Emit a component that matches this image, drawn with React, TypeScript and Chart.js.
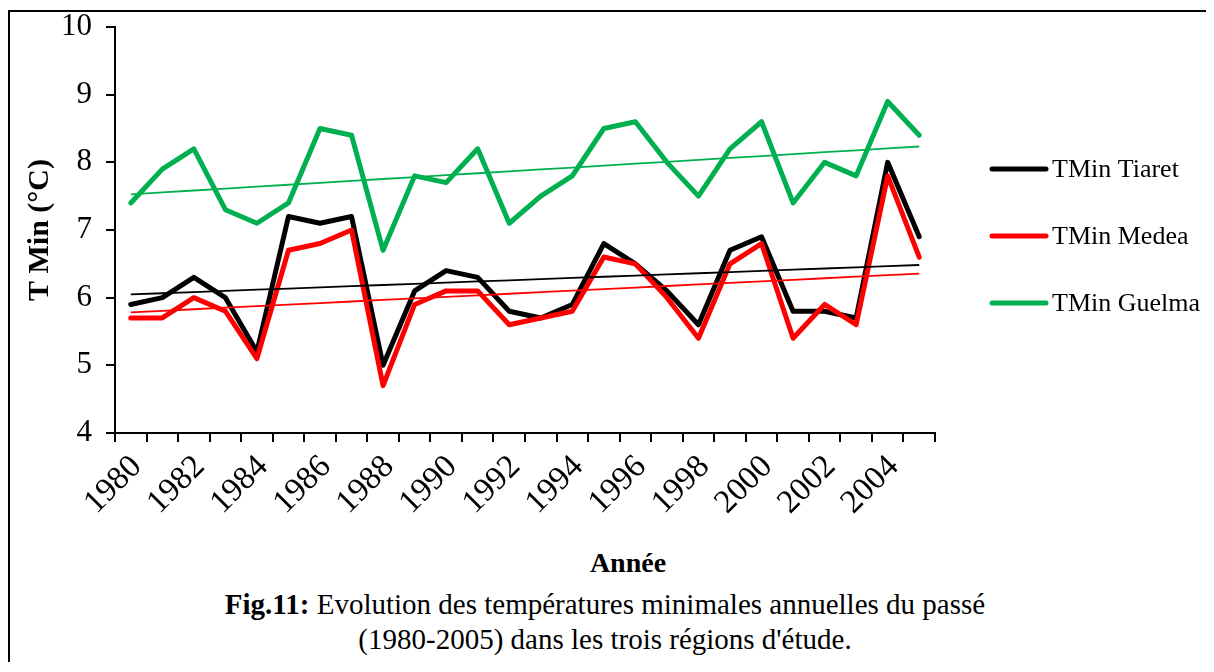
import React, { useEffect, useRef } from "react";
import { Chart, registerables } from "chart.js";

Chart.register(...registerables);

const years = [
  "1980", "1981", "1982", "1983", "1984", "1985", "1986", "1987", "1988",
  "1989", "1990", "1991", "1992", "1993", "1994", "1995", "1996", "1997",
  "1998", "1999", "2000", "2001", "2002", "2003", "2004", "2005",
];

const tiaret = [
  5.9, 6.0, 6.3, 6.0, 5.2, 7.2, 7.1, 7.2, 5.0, 6.1, 6.4, 6.3, 5.8,
  5.7, 5.9, 6.8, 6.5, 6.1, 5.6, 6.7, 6.9, 5.8, 5.8, 5.7, 8.0, 6.9,
];

const medea = [
  5.7, 5.7, 6.0, 5.8, 5.1, 6.7, 6.8, 7.0, 4.7, 5.9, 6.1, 6.1, 5.6,
  5.7, 5.8, 6.6, 6.5, 6.0, 5.4, 6.5, 6.8, 5.4, 5.9, 5.6, 7.8, 6.6,
];

const guelma = [
  7.4, 7.9, 8.2, 7.3, 7.1, 7.4, 8.5, 8.4, 6.7, 7.8, 7.7, 8.2, 7.1,
  7.5, 7.8, 8.5, 8.6, 8.0, 7.5, 8.2, 8.6, 7.4, 8.0, 7.8, 8.9, 8.4,
];

const seriesNames = ["TMin Tiaret", "TMin Medea", "TMin Guelma"];
const seriesColors = ["#000000", "#FF0000", "#00B050"];
const yMin = 4;
const yMax = 10;
const yStep = 1;
const yTitle = "T Min (°C)";
const xTitle = "Année";
const captionBold = "Fig.11:";
const captionLine1 = " Evolution des températures minimales annuelles du passé";
const captionLine2 = "(1980-2005) dans les trois régions d'étude.";

const SERIF = "'Liberation Serif', 'Times New Roman', Times, serif";

// Least-squares linear trendline of a series (as Excel's "linear trend")
function linearTrend(values: number[]): number[] {
  const n = values.length;
  const xm = (n - 1) / 2;
  const ym = values.reduce((a, b) => a + b, 0) / n;
  let sxy = 0;
  let sxx = 0;
  values.forEach((v, i) => {
    sxy += (i - xm) * (v - ym);
    sxx += (i - xm) * (i - xm);
  });
  const slope = sxy / sxx;
  return values.map((_, i) => ym + slope * (i - xm));
}

const sideLegend = {
  id: "sideLegend",
  afterDraw(chart: any) {
    const { ctx, chartArea } = chart;
    const cy = (chartArea.top + chartArea.bottom) / 2 + 6;
    const x0 = chartArea.right + 57;
    ctx.save();
    ctx.font = `26px ${SERIF}`;
    ctx.textBaseline = "middle";
    ctx.textAlign = "left";
    seriesNames.forEach((name, i) => {
      const y = cy + (i - 1) * 67;
      ctx.strokeStyle = seriesColors[i];
      ctx.lineWidth = 5;
      ctx.lineCap = "round";
      ctx.beginPath();
      ctx.moveTo(x0, y);
      ctx.lineTo(x0 + 54, y);
      ctx.stroke();
      ctx.fillStyle = "#000";
      ctx.fillText(name, x0 + 60, y + 1);
    });
    ctx.restore();
  },
};

export default function App() {
  const canvasRef = useRef<HTMLCanvasElement | null>(null);

  useEffect(() => {
    const canvas = canvasRef.current;
    if (!canvas) return;
    const series = [tiaret, medea, guelma];
    const mainSets = series.map((data, i) => ({
      label: seriesNames[i],
      data,
      borderColor: seriesColors[i],
      backgroundColor: seriesColors[i],
      borderWidth: 5,
      borderJoinStyle: "round" as const,
      borderCapStyle: "round" as const,
      pointRadius: 0,
      tension: 0,
      order: 5 - i,
    }));
    const trendSets = series.map((data, i) => ({
      label: seriesNames[i] + " (tendance)",
      data: linearTrend(data),
      borderColor: seriesColors[i],
      backgroundColor: seriesColors[i],
      borderWidth: 1.8,
      pointRadius: 0,
      tension: 0,
      order: 0,
    }));

    const chart = new Chart(canvas, {
      type: "line",
      data: { labels: years, datasets: [...mainSets, ...trendSets] },
      options: {
        responsive: false,
        animation: false,
        layout: { padding: { top: 15, right: 271, left: 0, bottom: 0 } },
        plugins: {
          legend: { display: false },
          tooltip: { enabled: false },
        },
        scales: {
          x: {
            type: "category",
            offset: true,
            grid: {
              offset: true,
              drawOnChartArea: false,
              drawTicks: true,
              tickLength: 9,
              color: "#000",
              lineWidth: 2,
            },
            border: { display: true, color: "#000", width: 2 },
            ticks: {
              autoSkip: false,
              maxRotation: 45,
              minRotation: 45,
              color: "#000",
              padding: 8,
              labelOffset: 6,
              font: { family: SERIF, size: 33, lineHeight: 1 },
              callback: (_v: any, i: number) => (i % 2 === 0 ? years[i] : ""),
            },
            afterFit: (s: any) => {
              s.height = 107;
            },
          },
          y: {
            min: yMin,
            max: yMax,
            grid: {
              drawOnChartArea: false,
              drawTicks: true,
              tickLength: 9,
              color: "#000",
              lineWidth: 2,
            },
            border: { display: true, color: "#000", width: 2 },
            ticks: {
              stepSize: yStep,
              color: "#000",
              padding: 14,
              font: { family: SERIF, size: 31, lineHeight: 1 },
            },
            title: {
              display: true,
              text: yTitle,
              color: "#000",
              font: { family: SERIF, size: 30, weight: "bold", lineHeight: 1.2 },
              padding: { top: 12, bottom: 0 },
            },
            afterFit: (s: any) => {
              s.width = 105;
              s.paddingTop = 0;
              s.paddingBottom = 0;
            },
          },
        },
      },
      plugins: [sideLegend],
    });
    return () => chart.destroy();
  }, []);

  return (
    <div
      style={{
        position: "relative",
        marginTop: 2,
        borderLeft: "2px solid #000",
        borderTop: "2px solid #000",
        height: 650,
        overflow: "hidden",
        fontFamily: SERIF,
        color: "#000",
      }}
    >
      <canvas ref={canvasRef} width={1196} height={528} style={{ display: "block" }} />
      <div
        style={{
          position: "absolute",
          top: 534,
          left: 318,
          width: 600,
          textAlign: "center",
          fontSize: 28,
          lineHeight: "34px",
          fontWeight: "bold",
        }}
      >
        {xTitle}
      </div>
      <div
        style={{
          position: "absolute",
          top: 575,
          left: 95,
          width: 1000,
          textAlign: "center",
          fontSize: 29,
          lineHeight: "35px",
        }}
      >
        <div>
          <b>{captionBold}</b>
          {captionLine1}
        </div>
        <div>{captionLine2}</div>
      </div>
    </div>
  );
}
